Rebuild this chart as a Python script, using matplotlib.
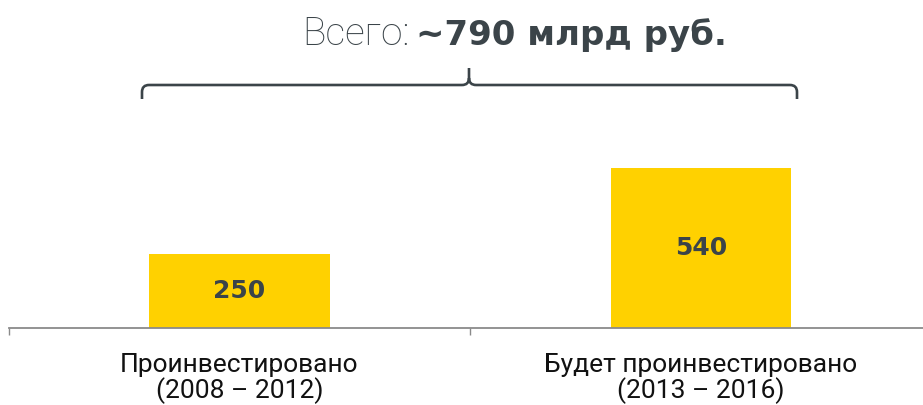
import matplotlib
matplotlib.use("Agg")
import matplotlib.pyplot as plt
from matplotlib.path import Path
from matplotlib.patches import PathPatch

# data
categories = ["Проинвестировано\n(2008 – 2012)", "Будет проинвестировано\n(2013 – 2016)"]
values = [250, 540]
total_label = "~790 млрд руб."

W, H = 923, 405
fig = plt.figure(figsize=(W / 100, H / 100), dpi=100)

def fx(x):
    return x / W

def fy(y):
    return 1 - y / H

# axes placed so the baseline sits at y=328 px
ax = fig.add_axes([fx(8.75), fy(328), 923 / W, 228 / H])
x = list(range(len(values)))
ax.bar(x, values, width=0.392, color="#FFD100", zorder=2)
ax.set_xlim(-0.5, len(values) - 0.5)
ax.set_ylim(0, 770)

for xi, v in zip(x, values):
    ax.text(xi, v / 2, str(v), ha="center", va="center", fontsize=18,
            fontweight="bold", family="DejaVu Sans", color="#3b4449")

for s in ["top", "right", "left"]:
    ax.spines[s].set_visible(False)
ax.spines["bottom"].set_color("#8a8a8a")
ax.spines["bottom"].set_linewidth(1.3)
ax.set_yticks([])
ax.set_xticks(x)
ax.set_xticklabels(categories, fontsize=19, family="Roboto",
                   color="#111111", linespacing=1.0)
ax.tick_params(axis="x", which="major", length=0, pad=18)
ax.set_xticks([i - 0.5 for i in range(len(values) + 1)], minor=True)
ax.tick_params(axis="x", which="minor", length=5, width=1, color="#8a8a8a",
               direction="out")

# title
dark = "#3b4449"
fig.text(fx(410), fy(45), "Всего:", ha="right", va="baseline", fontsize=28,
         family="Roboto", fontweight="light", color=dark)
fig.text(fx(416), fy(45), total_label, ha="left", va="baseline", fontsize=24.5,
         fontweight="bold", family="DejaVu Sans", color=dark)

# brace
pts = [(142, 99), (142, 92), (142, 85), (149, 85), (462, 85), (469, 85), (469, 78), (469, 68),
       (469, 78), (469, 85), (476, 85), (790, 85), (797, 85), (797, 92), (797, 99)]
codes = [Path.MOVETO, Path.LINETO, Path.CURVE3, Path.CURVE3, Path.LINETO, Path.CURVE3,
         Path.CURVE3, Path.LINETO, Path.MOVETO, Path.CURVE3, Path.CURVE3, Path.LINETO,
         Path.CURVE3, Path.CURVE3, Path.LINETO]
path = Path([(fx(a), fy(b)) for a, b in pts], codes)
fig.add_artist(PathPatch(path, facecolor="none", edgecolor=dark, linewidth=1.9,
                         transform=fig.transFigure, capstyle="butt"))

fig.savefig("out.png", dpi=100)
